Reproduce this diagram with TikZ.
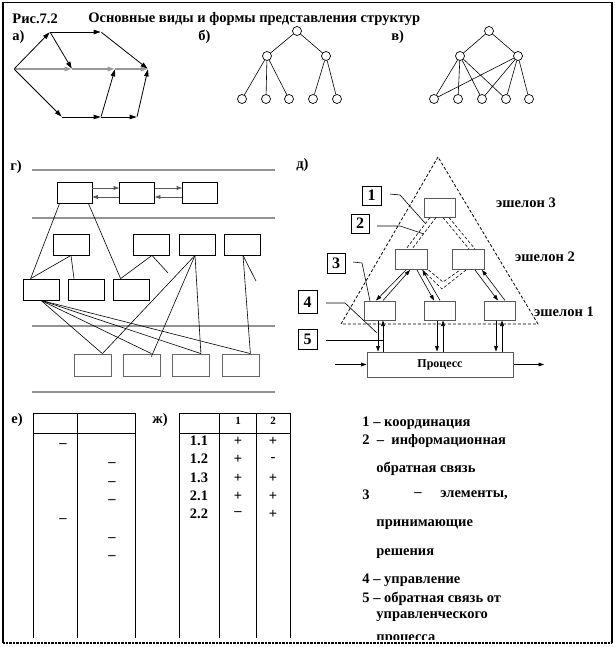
\documentclass[tikz,border=0pt]{standalone}
\usepackage{fontspec}
\setmainfont{Liberation Serif}
\usetikzlibrary{arrows.meta,calc}
\begin{document}
\begin{tikzpicture}[x=1pt,y=-1pt,line width=0.8pt,
  font=\bfseries\fontsize{14.5}{16}\selectfont,
  arr/.style={-{Triangle[length=7pt,width=4.5pt]}},
  sarr/.style={-{Triangle[length=5.5pt,width=3.8pt]}},
  garr/.style={arr, draw=gray!80, line width=1.4pt},
  circ/.style={circle,draw,line width=0.7pt,minimum size=9pt,inner sep=0pt},
  rbox/.style={draw,minimum width=36pt,minimum height=21pt,inner sep=0pt},
  gline/.style={draw=gray!85,line width=1.6pt},
  ebox/.style={draw=gray!70!black,line width=1pt,minimum width=31pt,minimum height=19pt,inner sep=0pt},
  lbox/.style={draw,line width=0.9pt,minimum width=19pt,minimum height=19pt,inner sep=0pt,font=\bfseries\fontsize{16}{18}\selectfont},
  dsh/.style={dashed,dash pattern=on 3pt off 2pt},
  txt/.style={inner sep=0pt,anchor=west},
  dot/.style={inner sep=0pt,minimum size=0pt}
]
\useasboundingbox (0,0) rectangle (615,647);
% frame
\draw[line width=1.2pt] (3,643) -- (3,2.5) -- (612,2.5) -- (612,643);
\draw[line width=1.6pt,dash pattern=on 0.7pt off 0.7pt] (3,643) -- (612,643);

% title
\node[txt] (t0) at (12,19) {Рис.7.2};
\node[txt] (t1) at (88,19) {Основные виды и формы представления структур};
\node[txt] (la) at (12,37) {а)};
\node[txt] (lb) at (198,37) {б)};
\node[txt] (lv) at (391,37) {в)};

% a)
\node[dot] (aL) at (14,69) {};
\node[dot] (aA) at (50,32) {};
\node[dot] (aB) at (101,32) {};
\node[dot] (aM1) at (72,69) {};
\node[dot] (aM2) at (115,69) {};
\node[dot] (aR) at (148,69) {};
\node[dot] (aC) at (62,117) {};
\node[dot] (aD) at (101,117) {};
\node[dot] (aE) at (137,117) {};
\draw[garr] (aL) -- (aM1);
\draw[garr] (aM1) -- (aM2);
\draw[garr] (aM2) -- (aR);
\draw[arr] (aL) -- (aA);
\draw[arr] (aA) -- (aB);
\draw[arr] (aB) -- (aR);
\draw[arr] (aA) -- (aM1);
\draw[arr] (aL) -- (aC);
\draw[arr] (aC) -- (aD);
\draw[arr] (aD) -- (aM2);
\draw[arr] (aD) -- (aE);
\draw[arr] (aE) -- (aR);

% b)
\node[circ] (b0) at (297,31) {};
\node[circ] (b1) at (267,56) {};
\node[circ] (b2) at (326,56) {};
\node[circ] (b3) at (242,99) {};
\node[circ] (b4) at (266,99) {};
\node[circ] (b5) at (289,99) {};
\node[circ] (b6) at (313,99) {};
\node[circ] (b7) at (337,99) {};
\draw[line width=0.6pt] (b0) -- (b1) (b0) -- (b2) (b1) -- (b3) (b1) -- (b4) (b1) -- (b5) (b2) -- (b6) (b2) -- (b7);

% v)
\node[circ] (v0) at (489,31) {};
\node[circ] (v1) at (460,56) {};
\node[circ] (v2) at (518,56) {};
\node[circ] (v3) at (434,99) {};
\node[circ] (v4) at (458,99) {};
\node[circ] (v5) at (482,99) {};
\node[circ] (v6) at (506,99) {};
\node[circ] (v7) at (529,99) {};
\draw[line width=0.6pt] (v0) -- (v1) (v0) -- (v2) (v1) -- (v3) (v1) -- (v4) (v1) -- (v5) (v1) -- (v6)
      (v2) -- (v3) (v2) -- (v5) (v2) -- (v6) (v2) -- (v7);

% g)
\node[txt] (lg) at (10,167) {г)};
\draw[gline] (32,170) -- (275,170);
\draw[gline] (32,218) -- (275,218);
\draw[gline] (32,326) -- (275,326);
\draw[gline] (32,392) -- (275,392);
\node[rbox,minimum width=35pt] (gt1) at (74.5,192.5) {};
\node[rbox,minimum width=35pt] (gt2) at (137,192.5) {};
\node[rbox,minimum width=35pt] (gt3) at (200,192.5) {};
\draw[sarr,draw=gray!70!black] ([yshift=4.5pt]gt1.east) -- ([yshift=4.5pt]gt2.west);
\draw[sarr,draw=gray!70!black] ([yshift=-4.5pt]gt2.west) -- ([yshift=-4.5pt]gt1.east);
\draw[sarr,draw=gray!70!black] ([yshift=4.5pt]gt2.east) -- ([yshift=4.5pt]gt3.west);
\draw[sarr,draw=gray!70!black] ([yshift=-4.5pt]gt3.west) -- ([yshift=-4.5pt]gt2.east);
\node[rbox] (gs1) at (71,244.5) {};
\node[rbox] (gs2) at (151,244.5) {};
\node[rbox] (gs3) at (197,244.5) {};
\node[rbox] (gs4) at (242,244.5) {};
\node[rbox] (gr1) at (41,289.5) {};
\node[rbox] (gr2) at (86,289.5) {};
\node[rbox] (gr3) at (131,289.5) {};
\node[rbox,draw=gray!80!black,minimum width=37pt,minimum height=22pt] (gb1) at (92.5,365) {};
\node[rbox,draw=gray!80!black,minimum width=37pt,minimum height=22pt] (gb2) at (141.5,365) {};
\node[rbox,draw=gray!80!black,minimum width=37pt,minimum height=22pt] (gb3) at (191,365) {};
\node[rbox,draw=gray!80!black,minimum width=37pt,minimum height=22pt] (gb4) at (240.5,365) {};
\coordinate (gf1) at (168,273);
\coordinate (gf2) at (256,281);
\begin{scope}[line width=0.6pt]
\draw ([xshift=3pt]gt1.south west) -- ([xshift=8pt]gr1.north west);
\draw ([xshift=-4pt]gt1.south east) -- ([xshift=8pt]gr3.north west);
\draw (gs1.south) -- ([xshift=8pt]gr1.north west);
\draw (gs1.south) -- ([xshift=-12pt]gr2.north);
\draw ([xshift=1pt]gs2.south) -- ([xshift=8pt]gr3.north west);
\draw ([xshift=1pt]gs2.south) -- (gf1);
\draw ([xshift=-2pt]gs3.south) -- ([xshift=-9pt]gb1.north east);
\draw ([xshift=-2pt]gs3.south) -- ([xshift=-9pt,yshift=-3pt]gb2.north east);
\draw ([xshift=-2pt]gs3.south) -- ([xshift=-9pt]gb3.north east);
\draw ([xshift=1pt]gs4.south) -- ([xshift=-9pt]gb4.north east);
\draw ([xshift=1pt]gs4.south) -- (gf2);
\draw (gr1.south) -- ([xshift=-9pt]gb1.north east);
\draw (gr1.south) -- ([xshift=-9pt]gb2.north east);
\draw (gr1.south) -- ([xshift=-9pt]gb3.north east);
\draw (gr1.south) -- ([xshift=-9pt]gb4.north east);
\end{scope}

% d)
\node[txt] (ld) at (296,165) {д)};
\draw[dsh,line width=0.8pt] (438,157) -- (341,324) -- (538,324) -- cycle;
\node[ebox] (dt) at (440,207.5) {};
\node[ebox,minimum width=32pt,minimum height=20pt] (d2a) at (411.5,259.5) {};
\node[ebox,minimum width=32pt,minimum height=20pt] (d2b) at (468.5,259.5) {};
\node[ebox] (d1a) at (379.5,310.5) {};
\node[ebox] (d1b) at (440,310.5) {};
\node[ebox] (d1c) at (500,310.5) {};
\node[ebox,minimum width=146pt,minimum height=25pt,font=\bfseries\fontsize{12}{14}\selectfont] (dp) at (440,364.5) {Процесс};
% dashed info links
\begin{scope}[line width=0.6pt]
\draw[dsh] ([xshift=-10pt]dt.south) -- ([xshift=-5.5pt]d2a.north);
\draw[dsh] ([xshift=-4pt]dt.south) -- ([xshift=0.5pt]d2a.north);
\draw[dsh] ([xshift=3pt]dt.south) -- ([xshift=0.5pt]d2b.north);
\draw[dsh] ([xshift=9pt]dt.south) -- ([xshift=6.5pt]d2b.north);
\coordinate (dv1) at (442,289);
\coordinate (dv2) at (443,282);
\draw[dsh] ([xshift=-5.5pt]d2a.south east) -- (dv1) -- ([xshift=-2.5pt]d2b.south);
\draw[dsh] ([xshift=0.5pt]d2a.south east) -- (dv2) -- ([xshift=-8.5pt]d2b.south);
% control links
\draw[sarr] ([xshift=-5.5pt]d2a.south) -- ([xshift=-3.5pt]d1a.north);
\draw[sarr] ([xshift=3.5pt]d1a.north) -- ([xshift=-1.5pt]d2a.south);
\draw[sarr] ([xshift=5.5pt]d2a.south) -- ([xshift=-6pt]d1b.north);
\draw[sarr] (d1b.north) -- ([xshift=11pt]d2a.south);
\draw[sarr] ([xshift=6.5pt]d2b.south) -- ([xshift=-2pt]d1c.north);
\draw[sarr] ([xshift=5pt]d1c.north) -- ([xshift=13.5pt]d2b.south);
% vertical links
\draw[sarr] ([xshift=-1.5pt]d1a.south) -- ([xshift=-62pt]dp.north);
\draw[sarr] ([xshift=-57pt]dp.north) -- ([xshift=3.5pt]d1a.south);
\draw[sarr] ([xshift=-3pt]d1b.south) -- ([xshift=-3pt]dp.north);
\draw[sarr] ([xshift=3pt]dp.north) -- ([xshift=3pt]d1b.south);
\draw[sarr] ([xshift=-4pt]d1c.south) -- ([xshift=56pt]dp.north);
\draw[sarr] ([xshift=62pt]dp.north) -- ([xshift=2pt]d1c.south);
\coordinate (din) at (335,364.5);
\coordinate (dout) at (544,364.5);
\draw[sarr] (din) -- (dp.west);
\draw[sarr] (dp.east) -- (dout);
\end{scope}
% label boxes
\node[lbox] (n1) at (371.5,195.5) {1};
\node[lbox,minimum width=18pt] (n2) at (360,223.5) {2};
\node[lbox,minimum width=18pt,minimum height=20pt] (n3) at (336,263) {3};
\node[lbox,minimum height=23pt] (n4) at (307.5,302) {4};
\node[lbox,minimum height=20pt] (n5) at (307.5,339) {5};
\coordinate (c1a) at (390,194); \coordinate (c1b) at (400,195); \coordinate (c1c) at (425,223);
\coordinate (c2a) at (377,226); \coordinate (c2b) at (400,226); \coordinate (c2c) at (424,234);
\coordinate (c3a) at (353,262); \coordinate (c3b) at (362,263); \coordinate (c3c) at (370,301);
\coordinate (c4a) at (326,303); \coordinate (c4b) at (345,303); \coordinate (c4c) at (377,333);
\coordinate (c5a) at (326,340); \coordinate (c5b) at (383,340);
\begin{scope}[line width=0.6pt]
\draw (c1a) -- (c1b) -- (c1c);
\draw (c2a) -- (c2b) -- (c2c);
\draw (c3a) -- (c3b) -- (c3c);
\draw (c4a) -- (c4b) -- (c4c);
\draw (c5a) -- (c5b);
\end{scope}
\node[inner sep=0pt] (e3) at (526,203) {эшелон 3};
\node[inner sep=0pt] (e2) at (545,257) {эшелон 2};
\node[inner sep=0pt] (e1) at (564,312) {эшелон 1};

% e) table
\node[txt] (le) at (11,420) {е)};
\draw (33,413) -- (135,413) (33,433) -- (135,433);
\draw (33,413) -- (33,638) (77,413) -- (77,638) (135,413) -- (135,638);
\foreach \y/\n in {446/ea,521/eb} \node[inner sep=0pt] (\n) at (63,\y) {–};
\foreach \y/\n in {465/ec,484/ed,502/ee,540/ef,558/eg} \node[inner sep=0pt] (\n) at (112,\y) {–};

% zh) table
\node[txt] (lzh) at (152,420) {ж)};
\draw (179,413) -- (290,413) (179,433) -- (290,433);
\draw (179,413) -- (179,638) (219,413) -- (219,638) (256,413) -- (256,638) (290,413) -- (290,638);
\node[inner sep=0pt,font=\bfseries\fontsize{11}{12}\selectfont] (h1) at (238,421) {1};
\node[inner sep=0pt,font=\bfseries\fontsize{11}{12}\selectfont] (h2) at (273,421) {2};
\foreach \y/\a/\b/\c/\n in {441/1.1/+/+/r1, 459/1.2/+/-/r2, 478/1.3/+/+/r3, 496/2.1/+/+/r4, 514/2.2/–/+/r5} {
  \node[inner sep=0pt] (\n a) at (199,\y) {\a};
  \node[inner sep=0pt] (\n b) at (238,\y) {\b};
  \node[inner sep=0pt] (\n c) at (273,\y) {\c};
}

% legend
\node[txt] (g1) at (362,423) {1 – координация};
\node[txt] (g2) at (362,441) {2 \ – \ информационная};
\node[txt] (g3) at (376,469) {обратная связь};
\node[txt] (g4) at (362,495) {3};
\node[inner sep=0pt] (g4d) at (418,495) {–};
\node[txt] (g4e) at (440,495) {элементы,};
\node[txt] (g5) at (376,525) {принимающие};
\node[txt] (g6) at (376,554) {решения};
\node[txt] (g7) at (362,580) {4 – управление};
\node[txt] (g8) at (362,599) {5 – обратная связь от};
\node[txt] (g9) at (376,617) {управленческого};
\begin{scope}
\clip (300,600) rectangle (612,639);
\node[txt] (g10) at (376,640) {процесса};
\end{scope}
\end{tikzpicture}
\end{document}
